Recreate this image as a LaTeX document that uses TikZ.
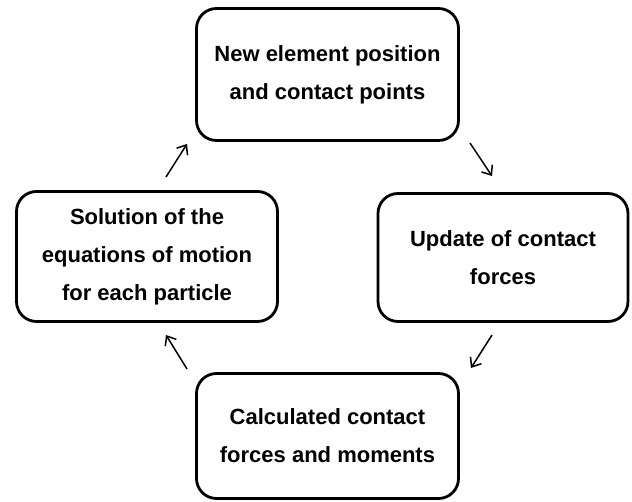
\documentclass[tikz,border=0pt]{standalone}
\usepackage{fontspec}
\setmainfont{Liberation Sans}
\usetikzlibrary{arrows.meta}
\begin{document}
\begin{tikzpicture}[x=1pt,y=1pt,
  box/.style={draw=black, line width=2.8pt, rounded corners=20pt, align=center,
    font=\fontsize{22}{38}\selectfont\bfseries, inner sep=0pt},
  flow/.style={line width=1.5pt, -{Straight Barb[length=8pt,width=13pt,line width=1.5pt]}}]
\useasboundingbox (0,0) rectangle (632,502);
\node[box, minimum width=262pt, minimum height=132pt] (top) at (327.5,427.5) {New element position\\and contact points};
\node[box, minimum width=250pt, minimum height=128pt] (right) at (503,244.5) {Update of contact\\forces};
\node[box, minimum width=261pt, minimum height=130pt] (left) at (147,245.5) {Solution of the\\equations of motion\\for each particle};
\node[box, minimum width=262pt, minimum height=125pt] (bottom) at (327.5,66) {Calculated contact\\forces and moments};
\coordinate (a1s) at (166,325); \coordinate (a1e) at (187,358);
\coordinate (a2s) at (470,359); \coordinate (a2e) at (492,326);
\coordinate (a3s) at (492,167); \coordinate (a3e) at (471,134);
\coordinate (a4s) at (187,133); \coordinate (a4e) at (166,167);
\draw[flow] (a1s) -- (a1e);
\draw[flow] (a2s) -- (a2e);
\draw[flow] (a3s) -- (a3e);
\draw[flow] (a4s) -- (a4e);
\end{tikzpicture}
\end{document}
